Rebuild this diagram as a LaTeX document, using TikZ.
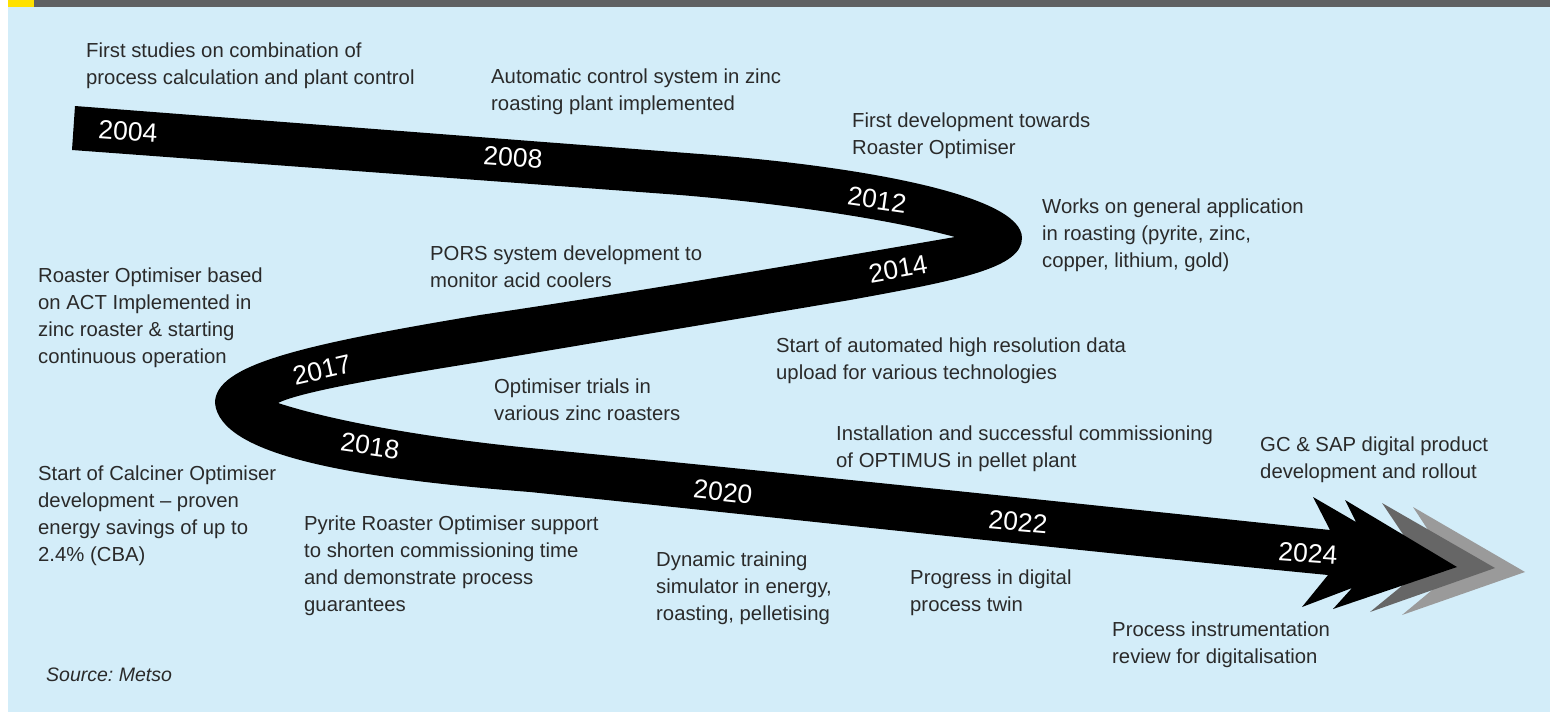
\documentclass[tikz,border=0pt]{standalone}
\usepackage{fontspec}
\setmainfont{Liberation Sans}
\frenchspacing
\definecolor{panel}{HTML}{D3EDF9}
\definecolor{topbar}{HTML}{606163}
\definecolor{accent}{HTML}{FFE100}
\definecolor{ink}{HTML}{2A2A2A}
\definecolor{chevdark}{HTML}{666666}
\definecolor{chevlight}{HTML}{9A9A9A}
% notes are anchored at the baseline of their last line
\tikzset{
  note/.style={anchor=base west, inner sep=0pt, align=left, text=ink,
    font=\fontsize{20.3}{27}\selectfont},
  year/.style={inner sep=0pt, text=white, font=\fontsize{26.5}{30}\selectfont},
}
\begin{document}
\begin{tikzpicture}[x=1pt,y=-1pt]
\useasboundingbox (0,0) rectangle (1550,712);
% frame: panel, top bar and accent mark
\fill[white] (0,0) rectangle (1550,712);
\fill[panel] (8,7) rectangle (1550,712);
\fill[topbar] (8,0) rectangle (1550,7);
\fill[accent] (8,0) rectangle (34,7);

% trailing chevrons behind the arrow head
\fill[chevlight] (1413,507) -- (1525,572) -- (1402,615) -- (1455,571) -- cycle;
\fill[chevdark] (1382,503) -- (1495,568) -- (1370,612) -- (1425,567) -- cycle;

% the S-shaped timeline ribbon with its arrow head
\fill[black]
  (75,106) -- (700,154)
  .. controls (860,166) and (1022,195) .. (1022,238)
  .. controls (1022,268) and (960,280) .. (850,300)
  -- (480,362)
  .. controls (380,378) and (300,392) .. (278,403)
  .. controls (330,420) and (420,437) .. (530,448)
  .. controls (800,474) and (1100,506) .. (1330,530)
  -- (1313,497) -- (1356,522) -- (1345,500) -- (1457,567)
  -- (1333,609) -- (1352,588) -- (1302,607) -- (1328,575)
  .. controls (1100,553) and (800,520) .. (530,492)
  .. controls (350,478) and (220,455) .. (215,403)
  .. controls (215,365) and (300,345) .. (480,315)
  .. controls (650,290) and (850,255) .. (955,237)
  .. controls (900,222) and (800,205) .. (680,195)
  -- (72,150) -- cycle;

% years along the ribbon
\node[year, rotate=-4] (y2004) at (128,131) {2004};
\node[year, rotate=-4] (y2008) at (513,157) {2008};
\node[year, rotate=-8] (y2012) at (877,200) {2012};
\node[year, rotate=10] (y2014) at (898,269) {2014};
\node[year, rotate=13] (y2017) at (322,370) {2017};
\node[year, rotate=-8] (y2018) at (370,446) {2018};
\node[year, rotate=-6] (y2020) at (723,492) {2020};
\node[year, rotate=-5] (y2022) at (1018,522) {2022};
\node[year, rotate=-4] (y2024) at (1308,553) {2024};

% milestone descriptions
\node[note] (m1) at (86,84) {First studies on combination of\\process calculation and plant control};
\node[note] (m2) at (491,110) {Automatic control system in zinc\\roasting plant implemented};
\node[note] (m3) at (852,154) {First development towards\\Roaster Optimiser};
\node[note] (m4) at (1042,267) {Works on general application\\in roasting (pyrite, zinc,\\copper, lithium, gold)};
\node[note] (m5) at (430,287) {PORS system development to\\monitor acid coolers};
\node[note] (m6) at (38,363) {Roaster Optimiser based\\on ACT Implemented in\\zinc roaster \& starting\\continuous operation};
\node[note] (m7) at (776,379) {Start of automated high resolution data\\upload for various technologies};
\node[note] (m8) at (494,420) {Optimiser trials in\\various zinc roasters};
\node[note] (m9) at (836,467) {Installation and successful commissioning\\of OPTIMUS in pellet plant};
\node[note] (m10) at (1260,478) {GC \& SAP digital product\\development and rollout};
\node[note] (m11) at (38,561) {Start of Calciner Optimiser\\development \textendash{} proven\\energy savings of up to\\2.4\% (CBA)};
\node[note] (m12) at (304,611) {Pyrite Roaster Optimiser support\\to shorten commissioning time\\and demonstrate process\\guarantees};
\node[note] (m13) at (656,620) {Dynamic training\\simulator in energy,\\roasting, pelletising};
\node[note] (m14) at (910,611) {Progress in digital\\process twin};
\node[note] (m15) at (1112,663) {Process instrumentation\\review for digitalisation};

% source line
\node[anchor=base west, inner sep=0pt, text=ink, font=\fontsize{19.5}{22}\selectfont\itshape] (src) at (46,681) {Source: Metso};
\end{tikzpicture}
\end{document}
